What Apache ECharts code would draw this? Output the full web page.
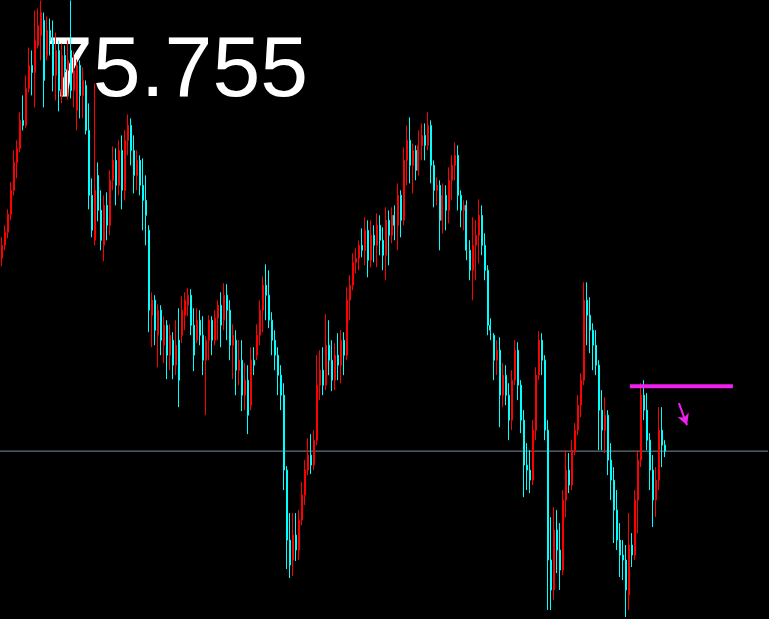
<!DOCTYPE html>
<html>
<head>
<meta charset="utf-8">
<script src="https://cdn.jsdelivr.net/npm/echarts@6/dist/echarts.min.js"></script>
<style>html,body{margin:0;padding:0;background:#000;}#c{width:769px;height:619px;}</style>
</head>
<body>
<div id="c"></div>
<script>
const open = [75.948,75.961,75.974,75.992,76.016,76.044,76.058,76.086,76.081,76.118,76.141,76.134,76.161,76.171,76.186,76.151,76.176,76.166,76.131,76.156,
76.111,76.151,76.136,76.156,76.116,76.096,76.141,76.111,76.121,76.076,76.011,75.966,76.031,75.996,75.961,76.001,75.981,76.026,76.046,76.021,
76.056,76.016,76.066,76.081,76.056,76.031,76.046,76.021,76.006,75.976,75.891,75.906,75.871,75.896,75.861,75.881,75.851,75.866,75.841,75.866,
75.871,75.891,75.901,75.911,75.881,75.866,75.886,75.871,75.846,75.866,75.886,75.866,75.888,75.901,75.886,75.911,75.896,75.861,75.866,75.836,
75.846,75.811,75.826,75.801,75.846,75.851,75.871,75.896,75.921,75.911,75.886,75.866,75.851,75.831,75.811,75.736,75.666,75.646,75.671,75.656,
75.686,75.711,75.736,75.751,75.741,75.766,75.821,75.836,75.821,75.861,75.846,75.826,75.851,75.841,75.866,75.851,75.906,75.921,75.944,75.948,
75.961,75.956,75.976,75.946,75.971,75.961,75.981,75.966,75.951,75.986,75.971,75.991,75.981,76.011,75.986,76.046,76.066,76.041,76.056,76.036,
76.061,76.071,76.061,76.081,76.041,76.016,76.021,75.986,76.011,75.996,76.026,76.041,76.051,76.011,75.996,76.001,75.956,75.936,75.961,75.971,
75.991,75.961,75.936,75.881,75.871,75.846,75.856,75.811,75.831,75.811,75.786,75.826,75.856,75.821,75.786,75.741,75.736,75.726,75.776,75.831,
75.866,75.846,75.776,75.646,75.616,75.676,75.656,75.636,75.706,75.736,75.721,75.756,75.776,75.801,75.826,75.906,75.891,75.876,75.861,75.841,
75.796,75.776,75.791,75.746,75.726,75.696,75.666,75.651,75.646,75.611,75.661,75.651,75.706,75.746,75.811,75.796,75.766,75.736,75.706,75.726,
75.776,75.761];
const close = [75.961,75.974,75.992,76.016,76.044,76.058,76.086,76.081,76.118,76.141,76.134,76.166,76.181,76.194,76.126,76.176,76.166,76.131,76.156,76.116,
76.151,76.136,76.146,76.116,76.136,76.141,76.111,76.126,76.076,76.011,75.976,76.016,75.996,75.966,76.001,75.981,76.026,76.046,76.021,76.056,
76.016,76.066,76.081,76.056,76.031,76.046,76.021,76.006,75.991,75.896,75.906,75.876,75.896,75.866,75.881,75.851,75.871,75.841,75.861,75.826,
75.896,75.906,75.911,75.881,75.851,75.886,75.871,75.846,75.866,75.886,75.866,75.888,75.901,75.881,75.911,75.896,75.861,75.871,75.836,75.846,
75.811,75.826,75.791,75.846,75.841,75.871,75.896,75.921,75.911,75.886,75.866,75.851,75.831,75.811,75.736,75.666,75.641,75.671,75.656,75.686,
75.711,75.736,75.751,75.741,75.766,75.821,75.836,75.821,75.861,75.846,75.826,75.851,75.841,75.866,75.851,75.906,75.921,75.944,75.948,75.961,
75.956,75.976,75.946,75.971,75.961,75.981,75.966,75.951,75.986,75.971,75.991,75.981,76.011,75.986,76.046,76.066,76.041,76.056,76.036,76.061,
76.071,76.061,76.081,76.041,76.016,76.021,75.986,76.011,75.996,76.026,76.041,76.051,76.011,75.996,76.001,75.956,75.936,75.961,75.971,75.991,
75.961,75.936,75.881,75.876,75.846,75.856,75.811,75.831,75.811,75.786,75.826,75.856,75.821,75.786,75.741,75.736,75.726,75.776,75.831,75.866,
75.846,75.776,75.646,75.616,75.676,75.656,75.636,75.706,75.736,75.721,75.756,75.776,75.801,75.826,75.906,75.891,75.876,75.861,75.841,75.796,
75.776,75.791,75.746,75.726,75.696,75.666,75.651,75.646,75.616,75.661,75.651,75.706,75.746,75.811,75.796,75.766,75.736,75.706,75.726,75.776,
75.761,75.755];
const low = [75.940,75.956,75.968,75.986,76.011,76.028,76.054,76.076,76.078,76.114,76.111,76.099,76.158,76.146,76.099,76.146,76.151,76.115,76.106,76.095,
76.103,76.111,76.107,76.108,76.099,76.076,76.088,76.088,76.072,75.997,75.969,75.961,75.985,75.956,75.945,75.966,75.971,76.016,76.001,76.011,
75.997,76.006,76.051,76.041,76.013,76.016,76.011,75.976,75.961,75.874,75.859,75.861,75.839,75.851,75.843,75.827,75.836,75.827,75.831,75.799,
75.863,75.876,75.890,75.871,75.835,75.863,75.861,75.831,75.791,75.846,75.851,75.861,75.866,75.859,75.876,75.866,75.846,75.827,75.811,75.821,
75.795,75.796,75.772,75.796,75.831,75.846,75.861,75.874,75.886,75.878,75.851,75.836,75.811,75.796,75.716,75.637,75.628,75.630,75.645,75.646,
75.681,75.701,75.731,75.732,75.736,75.761,75.806,75.811,75.816,75.831,75.815,75.816,75.826,75.823,75.831,75.846,75.886,75.916,75.933,75.936,
75.949,75.941,75.929,75.939,75.944,75.939,75.951,75.936,75.926,75.941,75.963,75.966,75.956,75.969,75.981,76.021,76.023,76.013,76.026,76.031,
76.046,76.046,76.056,76.023,75.999,76.001,75.956,75.973,75.976,75.983,76.006,76.026,75.996,75.979,75.976,75.946,75.926,75.906,75.926,75.943,
75.951,75.926,75.871,75.866,75.826,75.831,75.779,75.799,75.801,75.766,75.776,75.821,75.806,75.773,75.709,75.716,75.713,75.721,75.766,75.826,
75.831,75.766,75.596,75.596,75.606,75.633,75.616,75.631,75.689,75.713,75.716,75.751,75.771,75.789,75.821,75.861,75.853,75.836,75.831,75.756,
75.756,75.753,75.731,75.706,75.663,75.656,75.629,75.626,75.589,75.596,75.639,75.646,75.673,75.739,75.786,75.756,75.716,75.679,75.689,75.716,
75.739,75.749];
const high = [75.969,75.981,75.997,76.024,76.056,76.066,76.094,76.111,76.131,76.159,76.156,76.196,76.198,76.206,76.194,76.190,76.188,76.186,76.174,76.166,
76.163,76.161,76.166,76.206,76.155,76.147,76.146,76.139,76.126,76.103,76.028,76.123,76.044,76.016,76.011,76.014,76.036,76.060,76.058,76.066,
76.071,76.076,76.092,76.088,76.071,76.056,76.051,76.048,76.031,75.981,75.914,75.911,75.902,75.901,75.890,75.886,75.882,75.874,75.886,75.898,
75.910,75.914,75.918,75.917,75.898,75.898,75.896,75.890,75.870,75.891,75.890,75.896,75.906,75.914,75.923,75.922,75.906,75.882,75.876,75.866,
75.866,75.843,75.841,75.859,75.859,75.882,75.906,75.930,75.942,75.936,75.894,75.876,75.859,75.841,75.823,75.740,75.693,75.693,75.693,75.696,
75.724,75.746,75.768,75.772,75.776,75.851,75.856,75.859,75.892,75.886,75.866,75.863,75.873,75.876,75.874,75.919,75.931,75.953,75.958,75.966,
75.978,75.989,75.986,75.986,75.981,75.993,75.991,75.979,75.999,75.996,75.999,76.001,76.023,76.016,76.059,76.081,76.089,76.063,76.061,76.076,
76.083,76.083,76.094,76.086,76.046,76.029,76.026,76.023,76.021,76.039,76.051,76.064,76.061,76.016,76.006,76.006,75.966,75.989,75.986,76.007,
76.001,75.973,75.941,75.888,75.873,75.866,75.869,75.843,75.841,75.823,75.836,75.866,75.864,75.826,75.796,75.763,75.756,75.786,75.839,75.875,
75.873,75.851,75.786,75.689,75.699,75.696,75.683,75.716,75.756,75.753,75.766,75.783,75.811,75.833,75.924,75.924,75.909,75.883,75.876,75.846,
75.816,75.809,75.796,75.763,75.739,75.716,75.683,75.666,75.661,75.693,75.673,75.716,75.756,75.823,75.826,75.813,75.773,75.751,75.739,75.799,
75.799,75.766];
const lastPrice = 75.755;
const levelLine = [[210, 75.820], [244.3, 75.820]];
const arrowFrom = [226.3, 75.803];
const arrowTo = [229.0, 75.781];
const totalSlots = 256;
const categories = Array.from({length: totalSlots}, (_, i) => String(i));

const candles = open.map((o, i) => [o, close[i], low[i], high[i]]);
const priceLine = [[0, lastPrice], [totalSlots, lastPrice]];

const chart = echarts.init(document.getElementById('c'), null, {renderer: 'canvas'});
chart.setOption({
  backgroundColor: '#000000',
  animation: false,
  graphic: [{
    type: 'text', left: 45, top: 29, z: -10,
    style: { text: String(lastPrice), fill: '#ffffff', font: '86px "Liberation Sans", Arial, sans-serif' }
  }],
  grid: { left: 0, right: 1, top: 0.5, bottom: -0.5 },
  xAxis: [
    { type: 'category', data: categories, boundaryGap: true, show: false },
    { type: 'value', min: 0, max: totalSlots, show: false }
  ],
  yAxis: { type: 'value', min: 75.587, max: 76.206, show: false },
  series: [
    {
      type: 'line',
      xAxisIndex: 1,
      data: priceLine,
      symbol: 'none',
      silent: true,
      lineStyle: { color: '#7f8c9a', width: 1 },
      z: 1
    },
    {
      type: 'candlestick',
      data: candles,
      barWidth: 1.5,
      itemStyle: { color: '#ff0000', color0: '#00ffff', borderColor: '#ff0000', borderColor0: '#00ffff', borderWidth: 1 },
      z: 3
    },
    {
      type: 'line',
      xAxisIndex: 1,
      data: levelLine,
      symbol: 'none',
      lineStyle: { color: '#f020f0', width: 4 },
      z: 4,
      markLine: {
        silent: true, symbol: ['none', 'arrow'], symbolSize: [9, 11], label: { show: false },
        lineStyle: { color: '#f020f0', width: 2, type: 'solid' },
        data: [[{ coord: arrowFrom }, { coord: arrowTo }]]
      }
    }
  ]
});
</script>
</body>
</html>
